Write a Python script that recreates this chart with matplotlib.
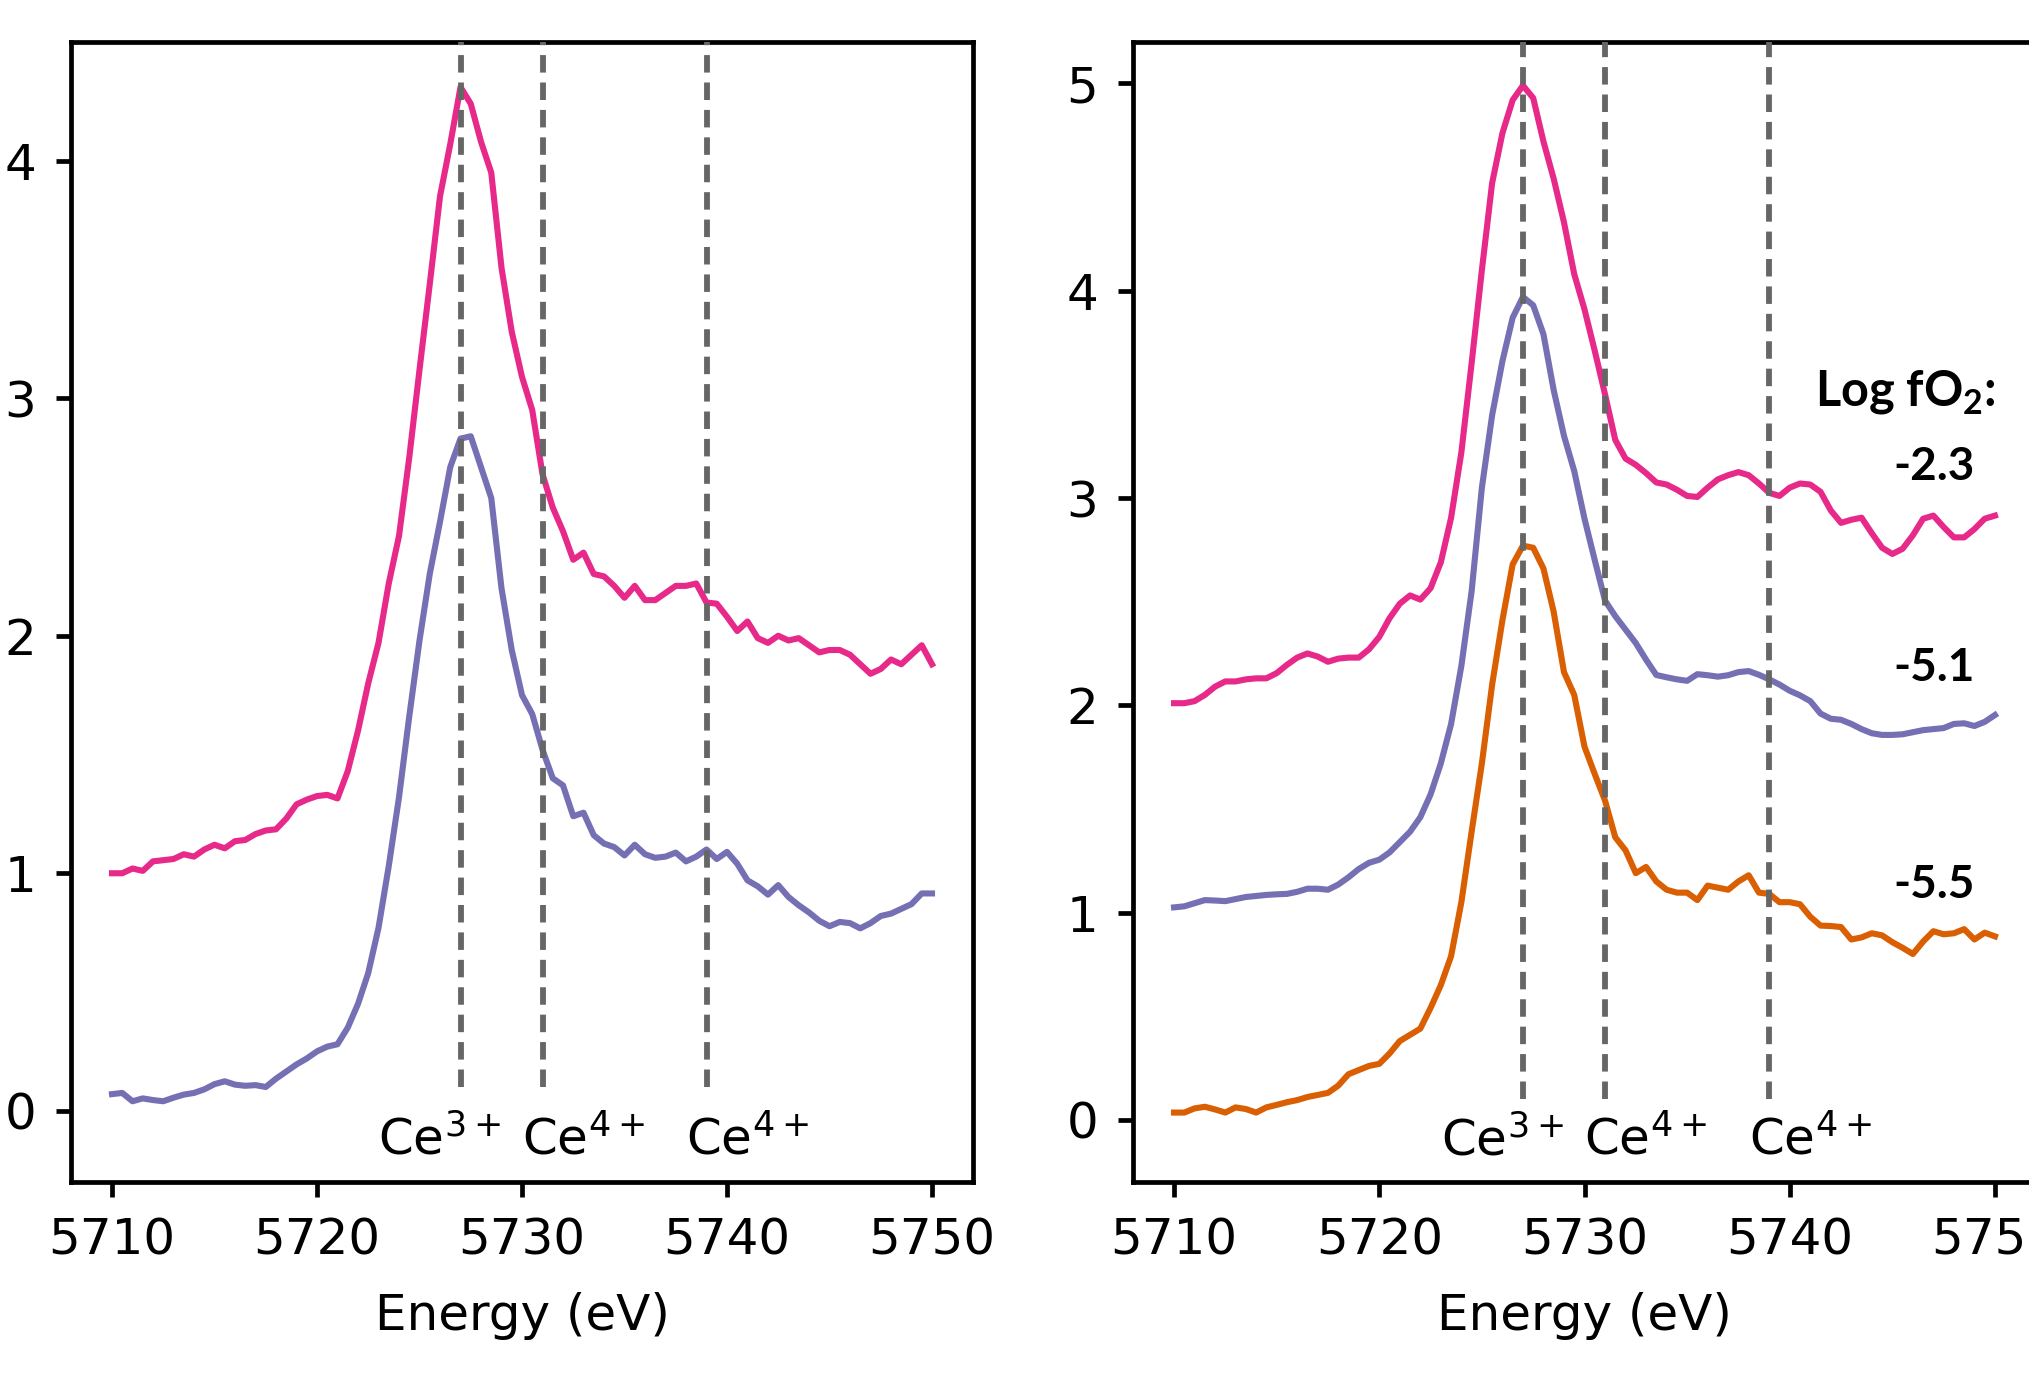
import numpy as np
import matplotlib
matplotlib.use("Agg")
import matplotlib.pyplot as plt

# energy grid (eV), 0.5 eV steps
energy = np.arange(5710.0, 5750.01, 0.5)

# left panel
left_pink = [1.00, 1.00, 1.02, 1.01, 1.05, 1.055, 1.06, 1.08, 1.07, 1.10,
             1.12, 1.105, 1.135, 1.14, 1.165, 1.18, 1.185, 1.23, 1.29, 1.31,
             1.325, 1.33, 1.315, 1.43, 1.60, 1.80, 1.97, 2.22, 2.42, 2.75,
             3.12, 3.48, 3.85, 4.07, 4.31, 4.24, 4.08, 3.95, 3.55, 3.28,
             3.09, 2.95, 2.68, 2.54, 2.44, 2.32, 2.35, 2.26, 2.25, 2.21,
             2.16, 2.21, 2.15, 2.15, 2.18, 2.21, 2.21, 2.22, 2.14, 2.135,
             2.08, 2.02, 2.06, 1.99, 1.97, 2.00, 1.98, 1.99, 1.96, 1.93,
             1.94, 1.94, 1.92, 1.88, 1.84, 1.86, 1.90, 1.88, 1.92, 1.96, 1.88]
left_purple = [0.07, 0.075, 0.04, 0.052, 0.045, 0.04, 0.055, 0.068, 0.075, 0.09,
               0.112, 0.124, 0.11, 0.105, 0.108, 0.10, 0.135, 0.165, 0.195, 0.22,
               0.25, 0.27, 0.28, 0.35, 0.45, 0.58, 0.77, 1.03, 1.32, 1.66,
               1.98, 2.26, 2.48, 2.71, 2.83, 2.84, 2.71, 2.58, 2.20, 1.94,
               1.75, 1.67, 1.52, 1.40, 1.37, 1.24, 1.255, 1.16, 1.125, 1.11,
               1.075, 1.12, 1.08, 1.065, 1.07, 1.087, 1.05, 1.07, 1.10, 1.06,
               1.09, 1.04, 0.97, 0.945, 0.91, 0.95, 0.90, 0.865, 0.835, 0.80,
               0.777, 0.795, 0.79, 0.768, 0.79, 0.82, 0.83, 0.85, 0.87, 0.915, 0.915]

# right panel
right_pink = [2.01, 2.01, 2.02, 2.05, 2.09, 2.115, 2.115, 2.125, 2.13, 2.13,
              2.155, 2.195, 2.23, 2.25, 2.235, 2.21, 2.225, 2.23, 2.23, 2.27,
              2.33, 2.42, 2.49, 2.53, 2.51, 2.565, 2.69, 2.905, 3.22, 3.65,
              4.10, 4.52, 4.76, 4.92, 4.99, 4.93, 4.72, 4.54, 4.33, 4.08,
              3.91, 3.71, 3.50, 3.28, 3.19, 3.16, 3.12, 3.075, 3.065, 3.04,
              3.01, 3.005, 3.05, 3.09, 3.11, 3.125, 3.11, 3.07, 3.025, 3.01,
              3.05, 3.07, 3.065, 3.03, 2.94, 2.88, 2.895, 2.905, 2.83, 2.76,
              2.73, 2.755, 2.82, 2.90, 2.915, 2.86, 2.81, 2.81, 2.85, 2.90, 2.915]
right_purple = [1.025, 1.03, 1.045, 1.06, 1.058, 1.055, 1.065, 1.075, 1.08, 1.085,
                1.088, 1.09, 1.10, 1.115, 1.115, 1.11, 1.135, 1.17, 1.21, 1.24,
                1.255, 1.29, 1.34, 1.39, 1.46, 1.57, 1.72, 1.91, 2.19, 2.55,
                3.05, 3.40, 3.66, 3.87, 3.97, 3.93, 3.79, 3.52, 3.30, 3.13,
                2.90, 2.70, 2.505, 2.43, 2.365, 2.30, 2.22, 2.146, 2.135, 2.125,
                2.118, 2.15, 2.145, 2.138, 2.145, 2.16, 2.165, 2.147, 2.125, 2.10,
                2.07, 2.048, 2.02, 1.96, 1.935, 1.93, 1.91, 1.885, 1.865, 1.857,
                1.857, 1.86, 1.87, 1.88, 1.885, 1.89, 1.91, 1.913, 1.90, 1.92, 1.953]
right_orange = [0.035, 0.035, 0.055, 0.063, 0.05, 0.035, 0.06, 0.052, 0.035, 0.06,
                0.072, 0.085, 0.095, 0.11, 0.12, 0.13, 0.165, 0.22, 0.24, 0.26,
                0.27, 0.32, 0.38, 0.41, 0.44, 0.54, 0.65, 0.79, 1.05, 1.39,
                1.72, 2.10, 2.41, 2.68, 2.77, 2.76, 2.66, 2.45, 2.16, 2.05,
                1.80, 1.668, 1.54, 1.363, 1.30, 1.19, 1.22, 1.15, 1.11, 1.096,
                1.096, 1.06, 1.13, 1.12, 1.11, 1.15, 1.18, 1.096, 1.09, 1.05,
                1.05, 1.04, 0.98, 0.937, 0.935, 0.93, 0.87, 0.88, 0.90, 0.89,
                0.857, 0.83, 0.80, 0.86, 0.91, 0.895, 0.90, 0.92, 0.87, 0.903, 0.885]

# reference energies and their labels
ce_lines = [5727, 5731, 5739]
ce_label_x = [5723, 5730, 5738]
ce_labels = ['Ce$^{3+}$', 'Ce$^{4+}$', 'Ce$^{4+}$']

fo2_labels = ['-2.3', '-5.1', '-5.5']
fo2_y = [3.15, 2.18, 1.135]

pink, purple, orange = '#e7298a', '#7570b3', '#d95f02'
fs = 36
lw = 4.4

fig = plt.figure(figsize=(20.29, 13.84), dpi=100)
ax1 = fig.add_axes([71 / 2029, 202 / 1384, 902 / 2029, 1140 / 1384])
ax2 = fig.add_axes([1133 / 2029, 202 / 1384, 903 / 2029, 1140 / 1384])

ax1.plot(energy, left_pink, color=pink, lw=lw)
ax1.plot(energy, left_purple, color=purple, lw=lw)

ax2.plot(energy, right_pink, color=pink, lw=lw)
ax2.plot(energy, right_purple, color=purple, lw=lw)
ax2.plot(energy, right_orange, color=orange, lw=lw)

for ax, ytop, ylab, yticks in [(ax1, 4.5, -0.185, range(0, 5)),
                               (ax2, 5.2, -0.17, range(0, 6))]:
    ax.vlines(ce_lines, 0.1, ytop, colors='#666666', lw=4.2,
              linestyles=[(0, (3.0, 1.7))], zorder=3)
    for x, lab in zip(ce_label_x, ce_labels):
        ax.text(x, ylab, lab, fontsize=fs, ha='left', va='baseline')
    ax.set_xlim(5708, 5752)
    ax.set_ylim(-0.3, ytop)
    ax.set_xticks([5710, 5720, 5730, 5740, 5750])
    ax.set_yticks(list(yticks))
    ax.tick_params(labelsize=fs, length=11, width=3.4, pad=14)
    for s in ax.spines.values():
        s.set_linewidth(3.4)
    ax.set_xlabel('Energy (eV)', fontsize=fs, labelpad=20)

ax2.text(5750.06, 3.444, r'Log fO$_\mathregular{2}$:', fontsize=35,
         fontfamily='Lato', fontweight='bold', ha='right', va='baseline')
for lab, y in zip(fo2_labels, fo2_y):
    ax2.text(5749.0, y, lab, fontsize=33, fontfamily='Lato',
             fontweight='bold', ha='right', va='center')

fig.savefig('out.png', dpi=100)
